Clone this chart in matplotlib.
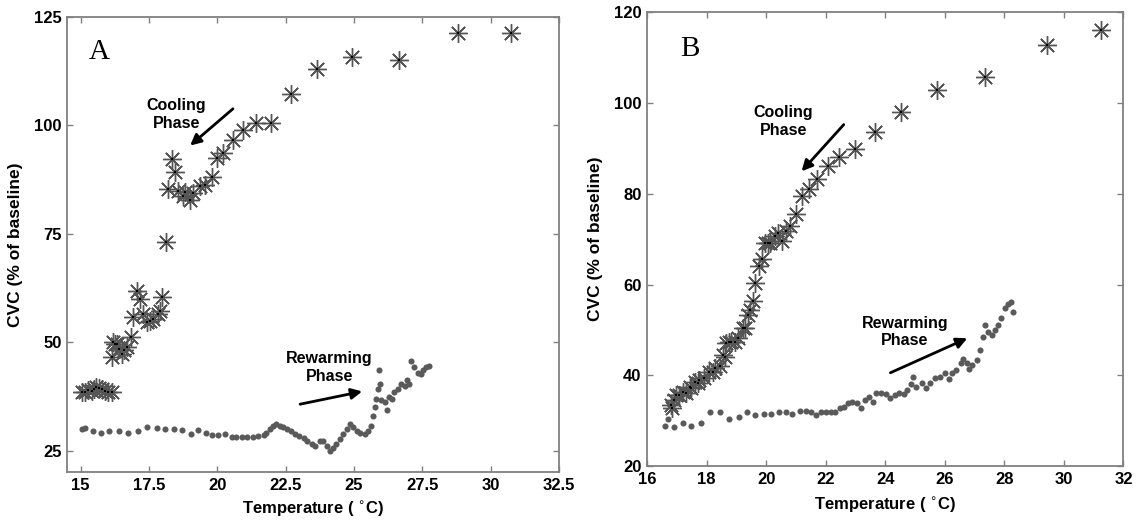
import matplotlib
matplotlib.use("Agg")
import matplotlib.pyplot as plt

plt.rcParams['font.family'] = ['Liberation Sans', 'DejaVu Sans']

# Panel A data
cool_a_temp = [15.05, 15.16, 15.28, 15.4, 15.5, 15.58, 15.68, 15.77, 15.9, 16.01,
               16.13, 16.13, 16.2, 16.26, 16.32, 16.4, 16.5, 16.6, 16.68, 16.84,
               16.9, 17.05, 17.17, 17.29, 17.44, 17.55, 17.63, 17.84, 17.9, 17.96,
               18.12, 18.18, 18.33, 18.45, 18.57, 18.75, 18.82, 19.0, 19.12, 19.36,
               19.55, 19.79, 20.0, 20.22, 20.56, 20.95, 21.41, 21.96, 22.70, 23.65,
               24.93, 26.63, 28.79, 30.73]
cool_a_cvc = [38.5, 38.5, 38.9, 38.8, 39.3, 39.6, 39.4, 39.2, 38.8, 38.5,
              38.5, 46.5, 50.0, 49.6, 49.6, 48.5, 47.3, 48.3, 48.8, 51.1,
              55.9, 61.8, 60.0, 56.4, 54.6, 55.0, 55.4, 56.5, 57.3, 60.4,
              73.1, 85.2, 92.1, 89.3, 84.8, 83.6, 84.6, 82.7, 84.4, 85.9,
              86.2, 88.1, 92.5, 93.5, 96.5, 98.8, 100.6, 100.6, 107.1, 113.0,
              115.6, 115.0, 121.2, 121.2]

warm_a_temp = [15.04, 15.16, 15.44, 15.73, 16.05, 16.4, 16.74, 17.1, 17.44, 17.79,
               18.1, 18.42, 18.72, 19.02, 19.3, 19.58, 19.82, 20.03, 20.27, 20.52,
               20.7, 20.9, 21.1, 21.3, 21.5, 21.7, 21.8, 21.93, 22.03, 22.15,
               22.3, 22.42, 22.54, 22.7, 22.85, 23.0, 23.16, 23.3, 23.46, 23.58,
               23.74, 23.88, 24.0, 24.12, 24.24, 24.36, 24.48, 24.6, 24.73, 24.85,
               24.97, 25.1, 25.22, 25.4, 25.52, 25.64, 25.7, 25.76, 25.82, 25.88,
               25.92, 25.94, 26.0, 26.12, 26.2, 26.3, 26.4, 26.48, 26.6, 26.72,
               26.85, 26.94, 27.03, 27.1, 27.2, 27.33, 27.45, 27.51, 27.64, 27.74]
warm_a_cvc = [30.0, 30.2, 29.5, 29.2, 29.5, 29.5, 29.2, 29.5, 30.4, 30.2,
              30.0, 30.0, 29.8, 28.8, 29.8, 29.0, 28.7, 28.7, 28.8, 28.1,
              28.2, 28.2, 28.1, 28.2, 28.5, 28.6, 29.2, 30.0, 30.8, 31.2,
              30.8, 30.4, 30.0, 29.6, 28.8, 28.5, 27.9, 27.3, 26.5, 26.2,
              27.3, 27.3, 26.2, 24.9, 25.6, 26.6, 27.7, 28.8, 30.0, 31.2,
              30.4, 29.6, 29.2, 28.8, 29.6, 30.8, 33.1, 35.1, 37.0, 39.3,
              43.6, 40.4, 36.6, 36.2, 34.5, 37.4, 37.0, 38.5, 39.3, 40.4,
              40.0, 41.2, 40.4, 45.6, 44.2, 43.0, 42.7, 43.6, 44.2, 44.6]

# Panel B data
cool_b_temp = [16.81, 16.85, 16.92, 16.98, 17.09, 17.2, 17.32, 17.43, 17.49, 17.6,
               17.71, 17.76, 17.93, 18.1, 18.21, 18.27, 18.44, 18.55, 18.61, 18.66,
               18.77, 18.83, 18.94, 19.05, 19.24, 19.28, 19.39, 19.45, 19.56, 19.63,
               19.76, 19.87, 19.95, 20.06, 20.12, 20.29, 20.4, 20.54, 20.66, 20.79,
               20.99, 21.22, 21.44, 21.72, 22.07, 22.45, 22.97, 23.66, 24.54, 25.75,
               27.36, 29.42, 31.23]
cool_b_cvc = [33.5, 32.8, 34.6, 35.7, 35.7, 36.4, 36.0, 37.5, 37.1, 38.6,
              38.4, 39.0, 39.5, 40.8, 40.8, 41.5, 42.0, 44.5, 44.1, 47.2,
              47.4, 47.4, 47.4, 48.2, 50.4, 50.5, 53.3, 54.4, 56.3, 60.3,
              64.0, 65.6, 69.2, 69.1, 69.2, 70.6, 71.3, 69.6, 71.9, 72.8,
              75.6, 79.4, 81.0, 83.3, 86.2, 88.1, 89.8, 93.7, 98.0, 102.8,
              105.7, 112.7, 116.0]

warm_b_temp = [16.59, 16.7, 16.92, 17.2, 17.49, 17.82, 18.12, 18.46, 18.77, 19.08,
               19.35, 19.64, 19.92, 20.17, 20.43, 20.66, 20.88, 21.13, 21.33, 21.5,
               21.69, 21.86, 22.02, 22.19, 22.33, 22.47, 22.6, 22.75, 22.9, 23.05,
               23.2, 23.31, 23.46, 23.6, 23.7, 23.87, 24.04, 24.17, 24.32, 24.47,
               24.62, 24.73, 24.85, 24.94, 25.05, 25.22, 25.36, 25.49, 25.66, 25.83,
               26.0, 26.14, 26.25, 26.39, 26.53, 26.62, 26.73, 26.82, 26.93, 27.07,
               27.18, 27.27, 27.34, 27.46, 27.57, 27.68, 27.79, 27.9, 28.02, 28.13,
               28.24, 28.3]
warm_b_cvc = [28.8, 30.3, 28.7, 29.4, 28.9, 29.4, 31.8, 31.8, 30.4, 30.9,
              31.8, 31.2, 31.5, 31.5, 32.0, 31.8, 31.5, 32.1, 32.2, 31.8,
              31.2, 31.8, 32.0, 32.0, 31.8, 32.7, 33.1, 33.8, 34.1, 33.8,
              32.7, 34.5, 35.3, 34.1, 36.0, 36.1, 35.9, 34.9, 35.6, 36.1,
              35.9, 36.7, 38.1, 39.7, 37.5, 38.2, 37.1, 38.2, 39.3, 39.7,
              40.4, 39.1, 40.4, 41.2, 42.6, 43.5, 42.6, 41.3, 42.3, 43.4,
              45.6, 48.5, 51.1, 49.6, 48.9, 50.0, 51.1, 52.6, 54.8, 55.7,
              56.2, 54.0]

xticks_a = [15, 17.5, 20, 22.5, 25, 27.5, 30, 32.5]
xticklabels_a = ['15', '17.5', '20', '22.5', '25', '27.5', '30', '32.5']
yticks_a = [25, 50, 75, 100, 125]
xticks_b = [16, 18, 20, 22, 24, 26, 28, 30, 32]
yticks_b = [20, 40, 60, 80, 100, 120]

asterisk = (8, 2, 0)
spine_col = '#808080'


def style_axes(ax, xpad):
    for s in ax.spines.values():
        s.set_color(spine_col)
        s.set_linewidth(1.3)
    ax.tick_params(direction='in', top=True, right=True, length=4, width=1,
                   color=spine_col, labelsize=12, pad=4)
    for lab in ax.get_xticklabels() + ax.get_yticklabels():
        lab.set_fontweight('bold')
    ax.set_xlabel('Temperature ( $^{\\circ}$C)', fontsize=12, fontweight='bold', labelpad=xpad)
    ax.set_ylabel('CVC (% of baseline)', fontsize=12.5, fontweight='bold', labelpad=8)


def draw_panel(ax, ct, cc, wt, wc):
    ax.plot(wt, wc, 'o', color='#5a5a5a', markersize=4.4, markeredgewidth=0)
    ax.plot(ct, cc, linestyle='none', marker=asterisk, color='#555555',
            markersize=13.5, markeredgewidth=1.0)
    ax.plot(ct, cc, 's', color='black', markersize=1.8, markeredgewidth=0)


fig = plt.figure(figsize=(11.37, 5.23), dpi=100)

ax1 = fig.add_axes([0.0589, 0.0966, 0.4327, 0.8715])
draw_panel(ax1, cool_a_temp, cool_a_cvc, warm_a_temp, warm_a_cvc)
ax1.set_xlim(14.5, 32.5)
ax1.set_ylim(20, 125)
ax1.set_xticks(xticks_a)
ax1.set_xticklabels(xticklabels_a)
ax1.set_yticks(yticks_a)
style_axes(ax1, 4)
ax1.text(15.67, 116.8, 'A', family='Liberation Serif', fontsize=21, ha='center', va='center')
ax1.text(18.5, 102.5, 'Cooling\nPhase', fontsize=11.5, fontweight='bold', ha='center', va='center')
ax1.annotate('', xy=(18.93, 94.9), xytext=(20.65, 104.2),
             arrowprops=dict(arrowstyle='-|>', color='black', lw=2, mutation_scale=16))
ax1.text(24.11, 44.2, 'Rewarming\nPhase', fontsize=11.5, fontweight='bold', ha='center', va='center')
ax1.annotate('', xy=(25.4, 38.8), xytext=(22.93, 35.6),
             arrowprops=dict(arrowstyle='-|>', color='black', lw=2, mutation_scale=16))

ax2 = fig.add_axes([0.569, 0.109, 0.4191, 0.8675])
draw_panel(ax2, cool_b_temp, cool_b_cvc, warm_b_temp, warm_b_cvc)
ax2.set_xlim(16, 32)
ax2.set_ylim(20, 120)
ax2.set_xticks(xticks_b)
ax2.set_yticks(yticks_b)
style_axes(ax2, 6)
ax2.text(17.43, 111.9, 'B', family='Liberation Serif', fontsize=21, ha='center', va='center')
ax2.text(20.59, 95.9, 'Cooling\nPhase', fontsize=11.5, fontweight='bold', ha='center', va='center')
ax2.annotate('', xy=(21.13, 84.5), xytext=(22.67, 95.7),
             arrowprops=dict(arrowstyle='-|>', color='black', lw=2, mutation_scale=16))
ax2.text(24.66, 49.5, 'Rewarming\nPhase', fontsize=11.5, fontweight='bold', ha='center', va='center')
ax2.annotate('', xy=(26.84, 48.4), xytext=(24.09, 40.3),
             arrowprops=dict(arrowstyle='-|>', color='black', lw=2, mutation_scale=16))

fig.savefig('out.png', dpi=100, facecolor='white')
